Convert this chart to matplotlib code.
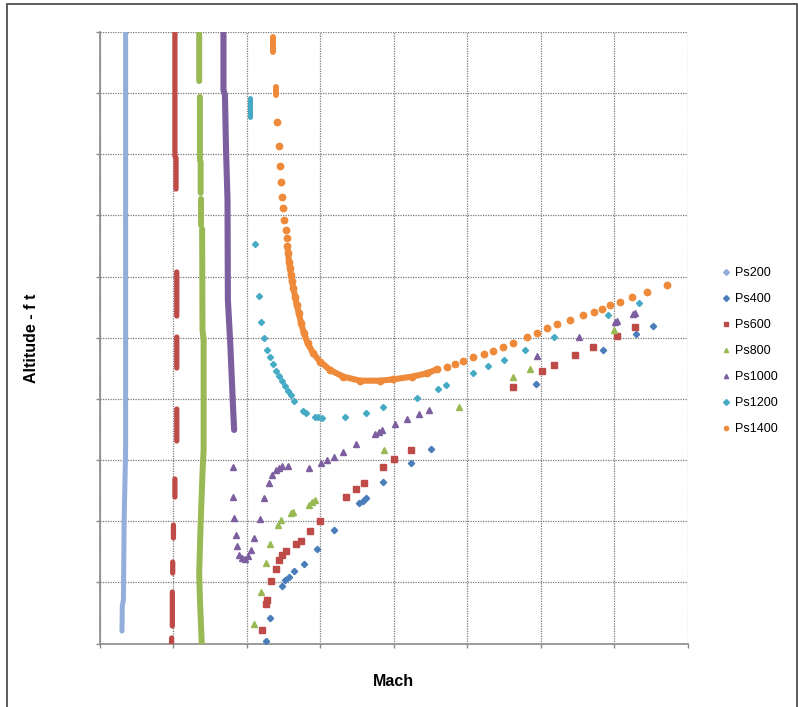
import numpy as np
import matplotlib
matplotlib.use('Agg')
import matplotlib.pyplot as plt
from matplotlib.lines import Line2D
from matplotlib.patches import Rectangle

plt.rcParams['font.family'] = ['Liberation Sans', 'DejaVu Sans']

nan = np.nan

labels = ['Ps200', 'Ps400', 'Ps600', 'Ps800', 'Ps1000', 'Ps1200', 'Ps1400']
colors = ['#93AEDB', '#4A7EBB', '#BE4B48', '#98B954', '#7D5FA0', '#46AAC5', '#EE8A3A']
markers = ['D', 'D', 's', '^', '^', 'D', 'o']

# parts where the points sit so close that they read as a solid bar (nan = gap)
ps200_run_m = [0.071, 0.071, 0.067, 0.065, 0.062, 0.061]
ps200_run_a = [50000, 15820, 10100, 3560, 3070, 1020]

ps600_run_m = [0.205, 0.205, 0.208, 0.208, nan, 0.210, 0.210, nan, 0.210, 0.210, nan,
               0.210, 0.210, nan, 0.205, 0.205, nan, 0.201, 0.201, nan, 0.199, 0.199, nan,
               0.198, 0.198, nan, 0.196, 0.196]
ps600_run_a = [50000, 39860, 39700, 37160, nan, 30380, 26780, nan, 25060, 22530, nan,
               19170, 16560, nan, 13450, 11980, nan, 9690, 8630, nan, 6660, 5760, nan,
               4210, 1430, nan, 450, 0]

ps800_run_m = [0.271, 0.271, nan, 0.273, 0.273, nan, 0.275, 0.275, nan, 0.276, 0.276, nan,
               0.279, 0.280, 0.283, 0.283, 0.280, 0.275, 0.271, 0.273, 0.278]
ps800_run_a = [50000, 45990, nan, 44690, 39530, nan, 39370, 36840, nan, 36350, 34220, nan,
               33890, 25630, 24820, 15820, 13940, 9850, 5760, 3560, 0]

ps1000_run_m = [0.337, 0.337, 0.341, 0.344, 0.348, 0.349, 0.355, 0.359, 0.363, 0.366]
ps1000_run_a = [50000, 45260, 44850, 40350, 36260, 28090, 24820, 22120, 19340, 17460]

ps1200_run_m = [0.409, 0.409]
ps1200_run_a = [44600, 43050]

ps1400_run_m = [0.4725, 0.4725, nan, 0.479, 0.479]
ps1400_run_a = [49590, 48370, nan, 45530, 44850]

# single points
ps400_m = [0.453, 0.464, 0.496, 0.505, 0.514, 0.530, 0.557, 0.592, 0.637, 0.706, 0.716, 0.725,
           0.772, 0.846, 0.901, 1.187, 1.368, 1.458, 1.504]
ps400_a = [200, 2090, 4730, 5170, 5410, 5900, 6530, 7750, 9260, 11490, 11680, 11920,
           13180, 14780, 15930, 21240, 24000, 25310, 25960]

ps600_m = [0.441, 0.453, 0.455, 0.467, 0.480, 0.488, 0.497, 0.508, 0.533, 0.548, 0.573, 0.600,
           0.671, 0.697, 0.718, 0.772, 0.801, 0.846, 1.123, 1.203, 1.235, 1.294, 1.341, 1.407, 1.457]
ps600_a = [1130, 3250, 3580, 5110, 6090, 6800, 7240, 7590, 8140, 8380, 9200, 9990,
           11950, 12630, 13100, 14430, 15060, 15850, 21000, 22260, 22770, 23570, 24270, 25170, 25880]

ps800_m = [0.419, 0.438, 0.453, 0.464, 0.485, 0.494, 0.520, 0.526, 0.569, 0.579, 0.586,
           0.774, 0.976, 1.123, 1.171, 1.400]
ps800_a = [1590, 4190, 6580, 8110, 9670, 10120, 10650, 10730, 11300, 11570, 11730,
           15820, 19360, 21770, 22470, 25630]

ps1000_m = [0.363, 0.364, 0.365, 0.370, 0.374, 0.379, 0.387, 0.396, 0.403, 0.412,
            0.420, 0.436, 0.447, 0.460, 0.470, 0.479, 0.487, 0.496, 0.513, 0.569,
            0.601, 0.619, 0.637, 0.663, 0.698, 0.750, 0.760, 0.768, 0.803, 0.836,
            0.869, 0.896, 1.189, 1.304, 1.402, 1.406, 1.450, 1.457]
ps1000_a = [14430, 11980, 10260, 8870, 7970, 7240, 6990, 6910, 7150, 7650,
            8630, 10180, 11900, 13120, 13780, 14190, 14350, 14510, 14510, 14350,
            14760, 15000, 15250, 15660, 16310, 17130, 17290, 17460, 17950, 18360,
            18770, 19090, 23510, 25040, 26290, 26370, 26920, 27020]

ps1200_m = [0.423, 0.433, 0.438, 0.446, 0.455, 0.464, 0.472, 0.480, 0.489, 0.497,
            0.503, 0.513, 0.521, 0.530, 0.553, 0.561, 0.587, 0.595, 0.604, 0.668,
            0.725, 0.772, 0.863, 0.920, 0.943, 1.016, 1.057, 1.099, 1.156, 1.235,
            1.383, 1.466]
ps1200_a = [32670, 28410, 26250, 24980, 24000, 23390, 22850, 22280, 21870, 21500,
            21060, 20610, 20280, 19850, 19040, 18830, 18540, 18500, 18410, 18500,
            18860, 19300, 20100, 20810, 21150, 22140, 22670, 23210, 24020, 25060,
            26860, 27840]

ps1400_m = [0.482, 0.488, 0.492, 0.494, 0.497, 0.500, 0.502, 0.506, 0.509, 0.511,
            0.513, 0.515, 0.518, 0.521, 0.523, 0.527, 0.532, 0.536, 0.542, 0.548,
            0.556, 0.566, 0.581, 0.600, 0.627, 0.663, 0.708, 0.763, 0.799, 0.849,
            0.890, 0.917, 0.944, 0.967, 0.989, 1.016, 1.044, 1.071, 1.098, 1.125,
            1.162, 1.189, 1.216, 1.243, 1.279, 1.315, 1.343, 1.365, 1.388, 1.415,
            1.447, 1.488, 1.542]
ps1400_a = [42670, 40680, 39040, 37710, 36530, 35590, 34630, 33810, 33130, 32500,
            31910, 31220, 30680, 30130, 29670, 29040, 28360, 27680, 27000, 26180,
            25360, 24550, 23730, 23040, 22360, 21820, 21490, 21490, 21600, 21820,
            22090, 22420, 22630, 22850, 23120, 23450, 23670, 23940, 24220, 24600,
            25040, 25360, 25770, 26120, 26450, 26860, 27130, 27380, 27650, 27950,
            28310, 28720, 29310]

fig = plt.figure(figsize=(7.98, 7.07), dpi=100)
ax = fig.add_axes([0.1247, 0.0898, 0.7375, 0.8649])

runs = [(ps200_run_m, ps200_run_a, 0, 3.6), (ps600_run_m, ps600_run_a, 2, 3.8),
        (ps800_run_m, ps800_run_a, 3, 4.3), (ps1000_run_m, ps1000_run_a, 4, 4.4),
        (ps1200_run_m, ps1200_run_a, 5, 3.6), (ps1400_run_m, ps1400_run_a, 6, 4.3)]
for m, a, i, w in runs:
    ax.plot(m, a, color=colors[i], lw=w, solid_capstyle='round', zorder=2 + i)

dots = [(ps400_m, ps400_a, 1, 3.2), (ps600_m, ps600_a, 2, 4.2), (ps800_m, ps800_a, 3, 4.5),
        (ps1000_m, ps1000_a, 4, 4.6), (ps1200_m, ps1200_a, 5, 3.1), (ps1400_m, ps1400_a, 6, 4.6)]
for m, a, i, s in dots:
    ax.plot(m, a, ls='none', marker=markers[i], ms=s, color=colors[i], mec=colors[i], zorder=2 + i)

# the bottom of the Ps1400 curve is a continuous band of points
ax.plot(ps1400_m[9:32], ps1400_a[9:32], color=colors[6], lw=4.4, solid_capstyle='round', zorder=8)

ax.set_xlim(0, 1.6)
ax.set_ylim(0, 50000)
ax.set_xticks(np.arange(0, 1.61, 0.2))
ax.set_yticks(np.arange(0, 50001, 5000))
ax.tick_params(labelleft=False, labelbottom=False, direction='out', length=3,
               width=1, color='#8a8a8a')
ax.grid(True, color='#7a7a7a', linestyle=(0, (1, 1)), linewidth=0.9, zorder=0)
ax.set_axisbelow(True)
for s in ['top', 'right']:
    ax.spines[s].set_visible(False)
for s in ['left', 'bottom']:
    ax.spines[s].set_color('#8a8a8a')
    ax.spines[s].set_linewidth(1.2)

fig.text(0.0390, 0.522, 'Altitude - f t', rotation=90, ha='center', va='center',
         fontsize=11.5, fontweight='bold')
fig.text(0.4925, 0.0354, 'Mach', ha='center', va='center', fontsize=11.5, fontweight='bold')

handles = [Line2D([], [], ls='none', marker=markers[i], color=colors[i], ms=3.0)
           for i in range(len(labels))]
leg = fig.legend(handles, labels, loc='upper left', bbox_to_anchor=(0.8956, 0.6313),
                 frameon=False, fontsize=9, handlelength=0.8, handletextpad=0.3,
                 borderpad=0, labelspacing=1.12)

fig.patches.append(Rectangle((7 / 798, -0.01), 790 / 798, 1.0043, transform=fig.transFigure,
                             fill=False, edgecolor='#404040', linewidth=1.2))

plt.savefig('out.png', dpi=100)
